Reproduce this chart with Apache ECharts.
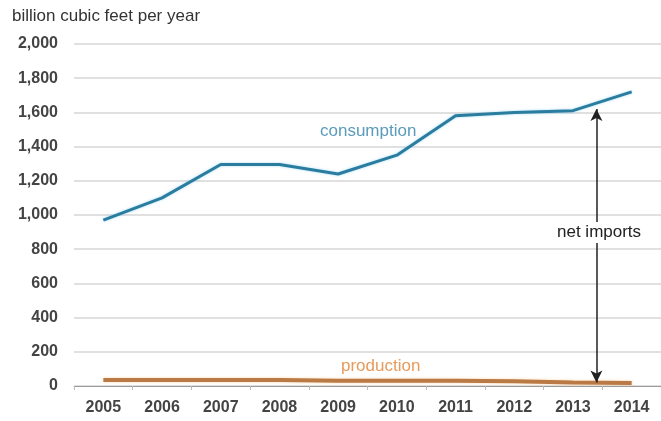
<!DOCTYPE html>
<html>
<head>
<meta charset="utf-8">
<script src="https://cdn.jsdelivr.net/npm/echarts@6/dist/echarts.min.js"></script>
<style>
  html, body { margin: 0; padding: 0; background: #fff; }
  #chart { width: 661px; height: 421px; }
</style>
</head>
<body>
<div id="chart"></div>
<script>
var years = ['2005', '2006', '2007', '2008', '2009', '2010', '2011', '2012', '2013', '2014'];
var consumption = [970, 1100, 1295, 1295, 1240, 1350, 1580, 1600, 1610, 1720];
var production = [35, 35, 35, 35, 30, 30, 30, 28, 20, 18];
var yTicks = [0, 200, 400, 600, 800, 1000, 1200, 1400, 1600, 1800, 2000];
// net imports arrow, drawn on a hidden value x axis (index 0..9 = 2005..2014)
var arrowX = 8.4;
var arrowTop = 1620, arrowBottom = 20;

var chart = echarts.init(document.getElementById('chart'));
var font = 'Liberation Sans, Arial, sans-serif';

var option = {
    animation: false,
    textStyle: { fontFamily: font },
    grid: { left: 74, right: -9, top: 44, bottom: 35 },
    graphic: [
        { type: 'text', left: 12, top: 8, style: { text: 'billion cubic feet per year', fontSize: 17, fill: '#333', fontFamily: font } },
        { type: 'text', left: 320, top: 123, style: { text: 'consumption', fontSize: 17, fill: '#5b9bbb', fontFamily: font } },
        { type: 'text', left: 341, top: 358, style: { text: 'production', fontSize: 17, fill: '#e89a5a', fontFamily: font } },
        { type: 'text', left: 556, top: 222, z: 100, style: { text: 'net imports', fontSize: 17, fill: '#222', fontFamily: font, backgroundColor: '#fff', padding: [2, 1] } }
    ],
    xAxis: [{
        type: 'category',
        data: years,
        boundaryGap: true,
        axisLine: { lineStyle: { color: '#999', width: 1 } },
        axisTick: { show: true, length: 4, lineStyle: { color: '#bbb' } },
        axisLabel: { fontSize: 16, fontWeight: 'bold', color: '#444', margin: 14, fontFamily: font },
        splitLine: { show: false }
    }, {
        type: 'value', min: -0.5, max: 9.5, show: false
    }],
    yAxis: {
        type: 'value',
        min: 0,
        max: 2000,
        interval: 200,
        axisLine: { show: false },
        axisTick: { show: false },
        axisLabel: {
            fontSize: 16, fontWeight: 'bold', color: '#444', margin: 16, fontFamily: font,
            formatter: function (v) { return yTicks.indexOf(v) >= 0 ? v.toLocaleString('en-US') : ''; }
        },
        splitLine: { lineStyle: { color: '#e0e0e0', width: 2 } }
    },
    series: [
        {
            name: 'consumption',
            type: 'line',
            data: consumption,
            symbol: 'none',
            lineStyle: { color: '#2a7d9f', width: 3, shadowColor: 'rgba(120,200,240,0.6)', shadowBlur: 3 },
            z: 5
        },
        {
            name: 'production',
            type: 'line',
            data: production,
            symbol: 'none',
            lineStyle: { color: '#b97a45', width: 4, shadowColor: 'rgba(250,190,120,0.6)', shadowBlur: 3 },
            z: 4
        },
        {
            name: 'arrow',
            type: 'line',
            xAxisIndex: 1,
            data: [],
            markLine: {
                silent: true,
                symbol: ['arrow', 'arrow'],
                symbolSize: [9, 12],
                label: { show: false },
                lineStyle: { color: '#222', width: 1.5, type: 'solid' },
                data: [[{ coord: [arrowX, arrowTop] }, { coord: [arrowX, arrowBottom] }]]
            }
        }
    ]
};
chart.setOption(option);
</script>
</body>
</html>
